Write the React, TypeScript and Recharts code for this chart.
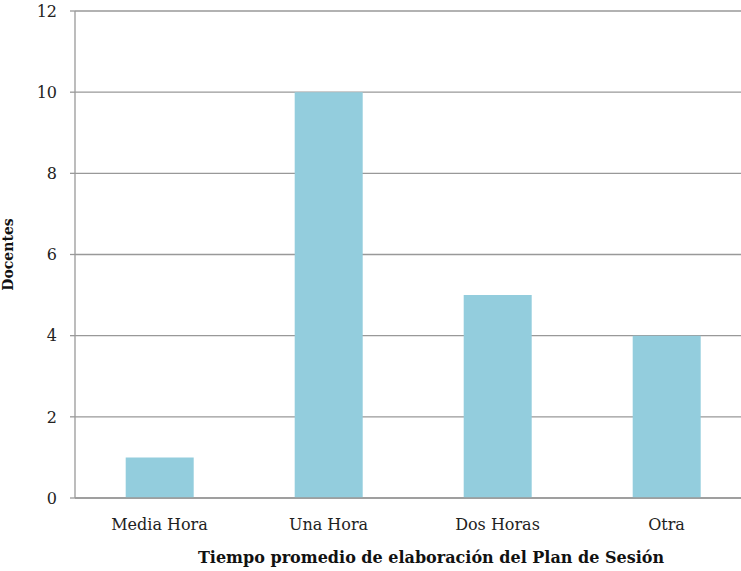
import React from 'react';
import { Bar, BarChart, CartesianGrid, Label, XAxis, YAxis } from 'recharts';

const categories = ['Media Hora', 'Una Hora', 'Dos Horas', 'Otra'];
const docentes = [1, 10, 5, 4];
const yTicks = [0, 2, 4, 6, 8, 10, 12];

const chartData = categories.map((name, i) => ({ name, docentes: docentes[i] }));

const font = '"DejaVu Serif", serif';
const gray = '#999999';

export default function App() {
  return (
    <div style={{ position: 'absolute', left: 0, top: 0, width: 741, height: 571, overflow: 'hidden', background: '#fff' }}>
      <BarChart
        width={760}
        height={571}
        data={chartData}
        margin={{ top: 11, right: 9, left: 15, bottom: 43 }}
        barCategoryGap="30%"
      >
        <CartesianGrid vertical={false} stroke={gray} strokeWidth={1.3} />
        <XAxis
          dataKey="name"
          height={30}
          tickLine={false}
          axisLine={{ stroke: gray, strokeWidth: 1.3 }}
          tickMargin={15}
          tick={{ fontSize: 16, fill: '#222', fontFamily: font }}
          interval={0}
        >
          <Label
            value="Tiempo promedio de elaboración del Plan de Sesión"
            position="insideBottom"
            offset={-35}
            dx={18}
            style={{ fontSize: 16, fontWeight: 'bold', fill: '#111', fontFamily: font }}
          />
        </XAxis>
        <YAxis
          width={60}
          domain={[0, 12]}
          ticks={yTicks}
          tickSize={5}
          tickMargin={13}
          tickLine={{ stroke: gray, strokeWidth: 1.3 }}
          axisLine={{ stroke: gray, strokeWidth: 1.3 }}
          tick={{ fontSize: 16, fill: '#222', fontFamily: font }}
        >
          <Label
            value="Docentes"
            angle={-90}
            position="insideLeft"
            offset={-7}
            style={{ fontSize: 14, fontWeight: 'bold', fill: '#111', fontFamily: font, textAnchor: 'middle' }}
          />
        </YAxis>
        <Bar dataKey="docentes" fill="#93CDDD" isAnimationActive={false} />
      </BarChart>
    </div>
  );
}
